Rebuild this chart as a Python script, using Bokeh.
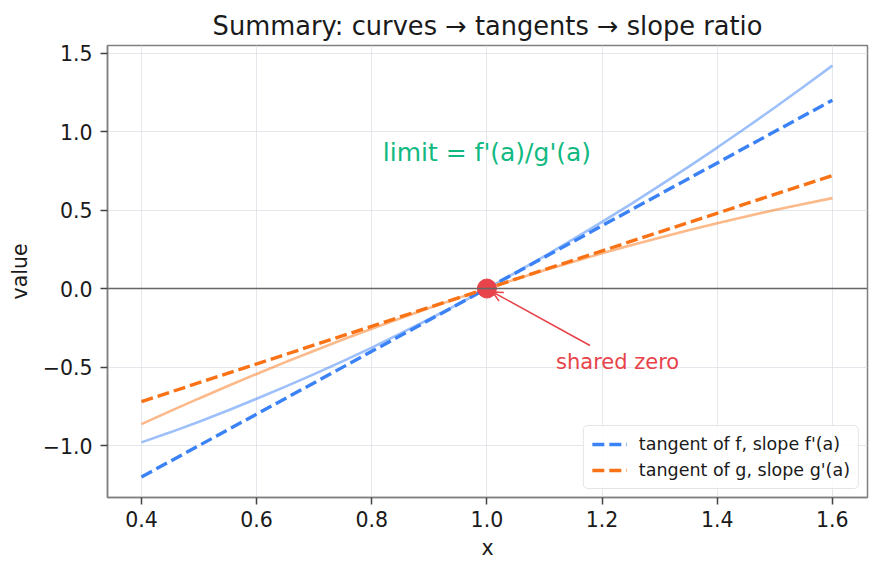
from bokeh.plotting import figure
from bokeh.models import (ColumnDataSource, FixedTicker, Span, Label, Arrow, OpenHead,
                          Legend, LegendItem, Range1d)
from bokeh.embed import file_html
from bokeh.resources import INLINE

# ---- data ----
x_vals = [0.40, 0.45, 0.50, 0.55, 0.60, 0.65, 0.70, 0.75, 0.80, 0.85, 0.90, 0.95, 1.00,
          1.05, 1.10, 1.15, 1.20, 1.25, 1.30, 1.35, 1.40, 1.45, 1.50, 1.55, 1.60]
f_vals = [-0.980, -0.916, -0.848, -0.777, -0.702, -0.625, -0.545, -0.462, -0.376, -0.286,
          -0.194, -0.099, 0.000, 0.102, 0.206, 0.314, 0.424, 0.538, 0.655, 0.775, 0.898,
          1.024, 1.153, 1.285, 1.420]
g_vals = [-0.864, -0.781, -0.700, -0.621, -0.544, -0.469, -0.396, -0.325, -0.256, -0.189,
          -0.124, -0.061, 0.000, 0.059, 0.116, 0.171, 0.224, 0.275, 0.324, 0.371, 0.416,
          0.459, 0.500, 0.539, 0.576]
tan_x = [0.4, 1.6]
tan_f = [-1.2, 1.2]
tan_g = [-0.72, 0.72]
a_point = [1.0]
a_value = [0.0]
x_ticks = [0.4, 0.6, 0.8, 1.0, 1.2, 1.4, 1.6]
y_ticks = [-1.0, -0.5, 0.0, 0.5, 1.0, 1.5]
y_tick_labels = ["\u22121.0", "\u22120.5", "0.0", "0.5", "1.0", "1.5"]
title_text = "Summary: curves \u2192 tangents \u2192 slope ratio"

FONT = "DejaVu Sans"
BLUE = "#3b82f6"
ORANGE = "#f97316"
RED = "#e8434a"
GREEN = "#10b981"
TXT = "#1a1a1a"

p = figure(width=880, height=573, output_backend="svg", toolbar_location=None,
           x_range=Range1d(0.341, 1.661), y_range=Range1d(-1.331, 1.548),
           min_border_left=107, min_border_right=13, min_border_top=45, min_border_bottom=76,
           background_fill_color="white", border_fill_color="white")

p.title.text = title_text
p.title.align = "center"
p.title.text_font = FONT
p.title.text_font_size = "25.7px"
p.title.text_font_style = "normal"
p.title.text_color = TXT
p.title.standoff = 9

p.outline_line_color = "#808080"
p.outline_line_width = 1.5

for ax in (p.xaxis[0], p.yaxis[0]):
    ax.axis_line_color = "#808080"
    ax.axis_line_width = 1.5
    ax.major_tick_line_color = "#444444"
    ax.major_tick_line_width = 1.5
    ax.major_tick_in = 0
    ax.major_tick_out = 7
    ax.minor_tick_line_color = None
    ax.major_label_text_font = FONT
    ax.major_label_text_font_size = "20.5px"
    ax.major_label_text_color = TXT
    ax.axis_label_text_font = FONT
    ax.axis_label_text_font_size = "20.5px"
    ax.axis_label_text_font_style = "normal"
    ax.axis_label_text_color = TXT

p.xaxis[0].major_label_standoff = 6
p.yaxis[0].major_label_standoff = 8
p.xaxis[0].ticker = FixedTicker(ticks=x_ticks)
p.yaxis[0].ticker = FixedTicker(ticks=y_ticks)
p.yaxis[0].major_label_overrides = {t: l for t, l in zip(y_ticks, y_tick_labels)}
p.xaxis[0].major_label_overrides = {t: f"{t:.1f}" for t in x_ticks}
p.xaxis.axis_label = "x"
p.yaxis.axis_label = "value"
p.xaxis[0].axis_label_standoff = 6
p.yaxis[0].axis_label_standoff = 8

p.xgrid.grid_line_color = "#dde1e6"
p.ygrid.grid_line_color = "#dde1e6"
p.xgrid.grid_line_alpha = 0.8
p.ygrid.grid_line_alpha = 0.8
p.xgrid.ticker = FixedTicker(ticks=x_ticks)
p.ygrid.ticker = FixedTicker(ticks=y_ticks)

# zero line
p.add_layout(Span(location=0, dimension="width", line_color="#666666", line_width=1.5))

curves = ColumnDataSource(dict(x=x_vals, f=f_vals, g=g_vals))
tans = ColumnDataSource(dict(x=tan_x, f=tan_f, g=tan_g))

p.line("x", "f", source=curves, line_color=BLUE, line_alpha=0.5, line_width=2.6)
p.line("x", "g", source=curves, line_color=ORANGE, line_alpha=0.5, line_width=2.6)
rf = p.line("x", "f", source=tans, line_color=BLUE, line_width=3.4, line_dash="12 5")
rg = p.line("x", "g", source=tans, line_color=ORANGE, line_width=3.4, line_dash="12 5")

p.scatter(a_point, a_value, size=19, color=RED, line_color=RED)

# annotation arrow
p.add_layout(Arrow(end=OpenHead(size=10, line_color=RED, line_width=1.5),
                   x_start=1.179, y_start=-0.363, x_end=1.010, y_end=-0.022,
                   line_color=RED, line_width=1.5))
p.add_layout(Label(x=1.12, y=-0.465, text="shared zero", text_color=RED,
                   text_font=FONT, text_font_size="21px", text_baseline="middle"))

p.add_layout(Label(x=1.0, y=0.866, text="limit = f'(a)/g'(a)", text_color=GREEN,
                   text_font=FONT, text_font_size="25px", text_align="center",
                   text_baseline="middle"))

legend = Legend(items=[LegendItem(label="tangent of f, slope f'(a)", renderers=[rf]),
                       LegendItem(label="tangent of g, slope g'(a)", renderers=[rg])],
                location="bottom_right")
legend.label_text_font = FONT
legend.label_text_font_size = "17.5px"
legend.label_text_color = TXT
legend.border_line_color = "#cccccc"
legend.border_line_width = 1.2
legend.border_radius = 5
legend.background_fill_alpha = 0.85
legend.glyph_width = 35
legend.glyph_height = 20
legend.label_height = 20
legend.label_standoff = 12
legend.spacing = 6
legend.padding = 8
legend.margin = 8
p.add_layout(legend)

open("out.html", "w").write(file_html(p, INLINE))
